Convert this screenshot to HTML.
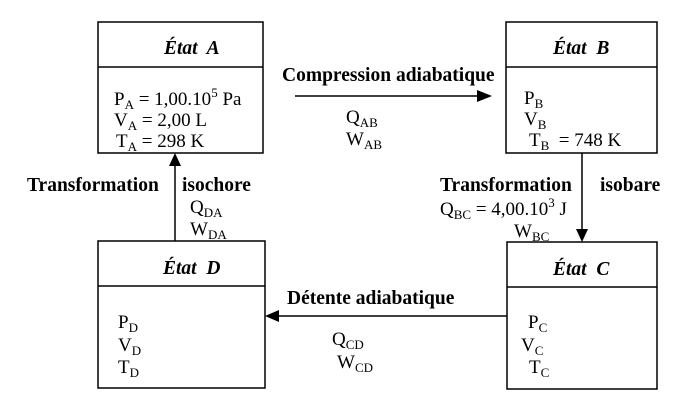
<!DOCTYPE html>
<html><head><meta charset="utf-8"><style>
html,body{margin:0;padding:0;background:#fff;}
svg{display:block;font-family:"Liberation Serif",serif;}
.t{font-size:19px;}
.b{font-size:19.5px;font-weight:bold;}
.h{font-size:19.5px;font-weight:bold;font-style:italic;}
.s{font-size:13px;}
</style></head><body>
<svg width="690" height="406" viewBox="0 0 690 406" xmlns="http://www.w3.org/2000/svg">
<g fill="none" stroke="#000" stroke-width="1.5">
<rect x="98" y="22" width="165" height="131"/><line x1="98" y1="67" x2="263" y2="67"/>
<rect x="506" y="22" width="151" height="131"/><line x1="506" y1="67" x2="657" y2="67"/>
<rect x="98" y="241" width="167" height="147"/><line x1="98" y1="286" x2="265" y2="286"/>
<rect x="507" y="242" width="150" height="147"/><line x1="507" y1="287" x2="657" y2="287"/>
<line x1="295" y1="96" x2="480" y2="96"/>
<line x1="175" y1="241" x2="175" y2="165"/>
<line x1="582" y1="153" x2="582" y2="230"/>
<line x1="507" y1="316" x2="278" y2="316"/>
</g>
<g fill="#000">
<polygon points="492,96 477,90 477,102"/>
<polygon points="175,153 169,166 181,166"/>
<polygon points="582,242 576,229 588,229"/>
<polygon points="265,316 279,310 279,322"/>
</g>
<text class="h" x="164" y="54">État&#160; A</text>
<text class="h" x="553" y="54">État&#160; B</text>
<text class="h" x="163" y="274">État&#160; D</text>
<text class="h" x="553" y="275">État&#160; C</text>

<text class="t" x="114" y="105">P<tspan class="s" dy="4">A</tspan><tspan dy="-4"> = 1,00.10</tspan><tspan class="s" dy="-8">5</tspan><tspan dy="8"> Pa</tspan></text>
<text class="t" x="114" y="126">V<tspan class="s" dy="4">A</tspan><tspan dy="-4"> = 2,00 L</tspan></text>
<text class="t" x="116" y="147">T<tspan class="s" dy="4">A</tspan><tspan dy="-4"> = 298 K</tspan></text>

<text class="t" x="524" y="104">P<tspan class="s" dy="4">B</tspan></text>
<text class="t" x="524" y="125">V<tspan class="s" dy="4">B</tspan></text>
<text class="t" x="529" y="146">T<tspan class="s" dy="4">B</tspan><tspan dy="-4">&#160; = 748 K</tspan></text>

<text class="t" x="118" y="328">P<tspan class="s" dy="4">D</tspan></text>
<text class="t" x="118" y="351">V<tspan class="s" dy="4">D</tspan></text>
<text class="t" x="118" y="373">T<tspan class="s" dy="4">D</tspan></text>

<text class="t" x="528" y="328">P<tspan class="s" dy="4">C</tspan></text>
<text class="t" x="521" y="351">V<tspan class="s" dy="4">C</tspan></text>
<text class="t" x="529" y="373">T<tspan class="s" dy="4">C</tspan></text>

<text class="b" x="282" y="81">Compression adiabatique</text>
<text class="t" x="346" y="123">Q<tspan class="s" dy="4">AB</tspan></text>
<text class="t" x="346" y="145">W<tspan class="s" dy="4">AB</tspan></text>

<text class="b" x="27" y="191">Transformation</text>
<text class="b" x="182" y="191">isochore</text>
<text class="t" x="190" y="213">Q<tspan class="s" dy="4">DA</tspan></text>
<text class="t" x="190" y="235">W<tspan class="s" dy="4">DA</tspan></text>

<text class="b" x="440" y="191">Transformation</text>
<text class="b" x="600" y="191">isobare</text>
<text class="t" x="440" y="215">Q<tspan class="s" dy="4">BC</tspan><tspan dy="-4"> = 4,00.10</tspan><tspan class="s" dy="-8">3</tspan><tspan dy="8"> J</tspan></text>
<text class="t" x="514" y="237">W<tspan class="s" dy="4">BC</tspan></text>

<text class="b" x="287" y="304">Détente adiabatique</text>
<text class="t" x="332" y="345">Q<tspan class="s" dy="4">CD</tspan></text>
<text class="t" x="337" y="368">W<tspan class="s" dy="4">CD</tspan></text>
</svg>
</body></html>
